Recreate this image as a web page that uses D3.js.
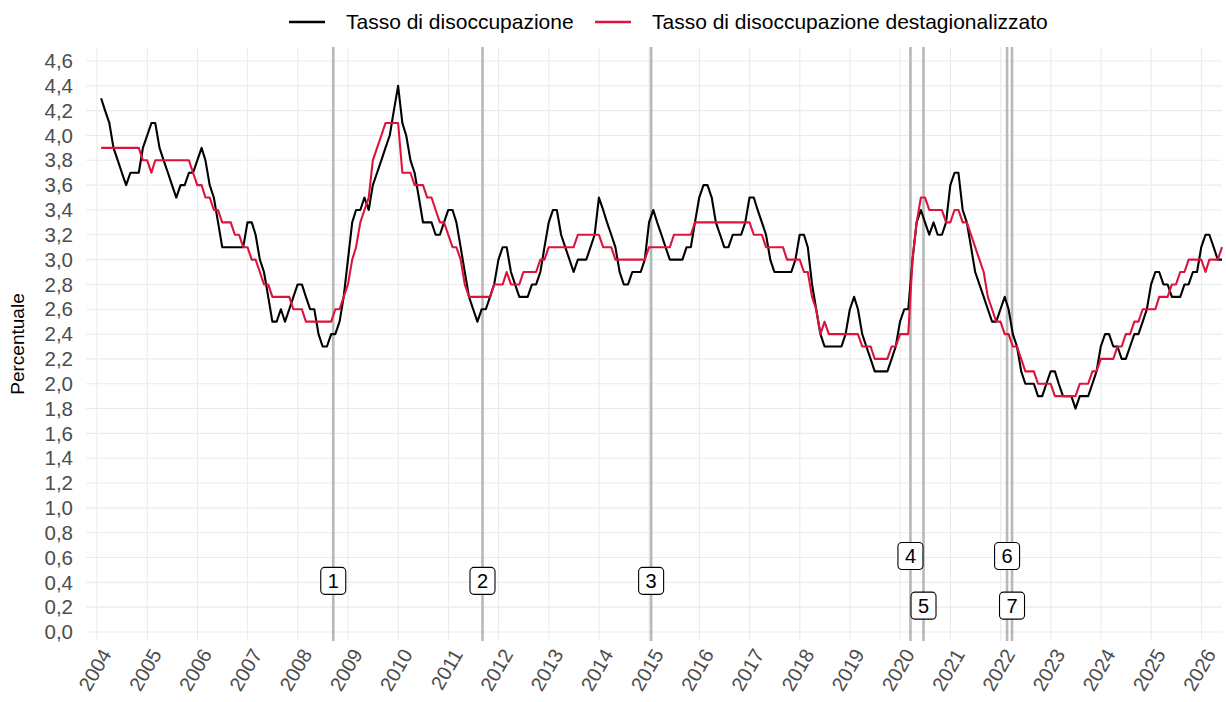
<!DOCTYPE html>
<html>
<head>
<meta charset="utf-8">
<script src="https://cdn.jsdelivr.net/npm/d3@7"></script>
<style>
  body { margin: 0; background: #fff; }
  svg { display: block; font-family: "Liberation Sans", Arial, sans-serif; }
</style>
</head>
<body>
<div id="chart"></div>
<script>
// Serie mensili da gennaio 2004
const primoAnno = 2004;
const tassoGrezzo = [
  4.3,4.2,4.1,3.9,3.8,3.7,3.6,3.7,3.7,3.7,3.9,4.0,
  4.1,4.1,3.9,3.8,3.7,3.6,3.5,3.6,3.6,3.7,3.7,3.8,
  3.9,3.8,3.6,3.5,3.3,3.1,3.1,3.1,3.1,3.1,3.1,3.3,
  3.3,3.2,3.0,2.9,2.7,2.5,2.5,2.6,2.5,2.6,2.7,2.8,
  2.8,2.7,2.6,2.6,2.4,2.3,2.3,2.4,2.4,2.5,2.7,3.0,
  3.3,3.4,3.4,3.5,3.4,3.6,3.7,3.8,3.9,4.0,4.2,4.4,
  4.1,4.0,3.8,3.7,3.5,3.3,3.3,3.3,3.2,3.2,3.3,3.4,
  3.4,3.3,3.1,2.9,2.7,2.6,2.5,2.6,2.6,2.7,2.8,3.0,
  3.1,3.1,2.9,2.8,2.7,2.7,2.7,2.8,2.8,2.9,3.1,3.3,
  3.4,3.4,3.2,3.1,3.0,2.9,3.0,3.0,3.0,3.1,3.2,3.5,
  3.4,3.3,3.2,3.1,2.9,2.8,2.8,2.9,2.9,2.9,3.0,3.3,
  3.4,3.3,3.2,3.1,3.0,3.0,3.0,3.0,3.1,3.1,3.3,3.5,
  3.6,3.6,3.5,3.3,3.2,3.1,3.1,3.2,3.2,3.2,3.3,3.5,
  3.5,3.4,3.3,3.2,3.0,2.9,2.9,2.9,2.9,2.9,3.0,3.2,
  3.2,3.1,2.8,2.6,2.4,2.3,2.3,2.3,2.3,2.3,2.4,2.6,
  2.7,2.6,2.4,2.3,2.2,2.1,2.1,2.1,2.1,2.2,2.3,2.5,
  2.6,2.6,3.0,3.3,3.4,3.3,3.2,3.3,3.2,3.2,3.3,3.6,
  3.7,3.7,3.4,3.3,3.1,2.9,2.8,2.7,2.6,2.5,2.5,2.6,
  2.7,2.6,2.4,2.3,2.1,2.0,2.0,2.0,1.9,1.9,2.0,2.1,
  2.1,2.0,1.9,1.9,1.9,1.8,1.9,1.9,1.9,2.0,2.1,2.3,
  2.4,2.4,2.3,2.3,2.2,2.2,2.3,2.4,2.4,2.5,2.6,2.8,
  2.9,2.9,2.8,2.8,2.7,2.7,2.7,2.8,2.8,2.9,2.9,3.1,
  3.2,3.2,3.1,3.0,3.0
];
const tassoDest = [
  3.9,3.9,3.9,3.9,3.9,3.9,3.9,3.9,3.9,3.9,3.8,3.8,
  3.7,3.8,3.8,3.8,3.8,3.8,3.8,3.8,3.8,3.8,3.7,3.6,
  3.6,3.5,3.5,3.4,3.4,3.3,3.3,3.3,3.2,3.2,3.1,3.1,
  3.0,3.0,2.9,2.8,2.8,2.7,2.7,2.7,2.7,2.7,2.6,2.6,
  2.6,2.5,2.5,2.5,2.5,2.5,2.5,2.5,2.6,2.6,2.7,2.8,
  3.0,3.1,3.3,3.4,3.5,3.8,3.9,4.0,4.1,4.1,4.1,4.1,
  3.7,3.7,3.7,3.6,3.6,3.6,3.5,3.5,3.4,3.3,3.3,3.2,
  3.1,3.1,3.0,2.8,2.7,2.7,2.7,2.7,2.7,2.7,2.8,2.8,
  2.8,2.9,2.8,2.8,2.8,2.9,2.9,2.9,2.9,3.0,3.0,3.1,
  3.1,3.1,3.1,3.1,3.1,3.1,3.2,3.2,3.2,3.2,3.2,3.2,
  3.1,3.1,3.1,3.0,3.0,3.0,3.0,3.0,3.0,3.0,3.0,3.1,
  3.1,3.1,3.1,3.1,3.1,3.2,3.2,3.2,3.2,3.2,3.3,3.3,
  3.3,3.3,3.3,3.3,3.3,3.3,3.3,3.3,3.3,3.3,3.3,3.3,
  3.2,3.2,3.2,3.1,3.1,3.1,3.1,3.1,3.0,3.0,3.0,3.0,
  2.9,2.9,2.7,2.6,2.4,2.5,2.4,2.4,2.4,2.4,2.4,2.4,
  2.4,2.4,2.3,2.3,2.3,2.2,2.2,2.2,2.2,2.3,2.3,2.4,
  2.4,2.4,3.0,3.3,3.5,3.5,3.4,3.4,3.4,3.4,3.3,3.3,
  3.4,3.4,3.3,3.3,3.2,3.1,3.0,2.9,2.7,2.6,2.5,2.5,
  2.4,2.4,2.3,2.3,2.2,2.1,2.1,2.1,2.0,2.0,2.0,2.0,
  1.9,1.9,1.9,1.9,1.9,1.9,2.0,2.0,2.0,2.1,2.1,2.2,
  2.2,2.2,2.2,2.3,2.3,2.4,2.4,2.5,2.5,2.6,2.6,2.6,
  2.6,2.7,2.7,2.7,2.8,2.8,2.9,2.9,3.0,3.0,3.0,3.0,
  2.9,3.0,3.0,3.0,3.1
];
const eventiDate = ["2008-09-15","2011-09-06","2015-01-15","2020-03-16","2020-06-19","2022-02-17","2022-03-25"];
const eventiNomi = ["1","2","3","4","5","6","7"];
const eventiLivello = [0.4, 0.4, 0.4, 0.6, 0.2, 0.6, 0.2];
const yTicks = d3.range(0, 4.61, 0.2);
const anniTicks = d3.range(2004, 2027);
const nomiSerie = ["Tasso di disoccupazione", "Tasso di disoccupazione destagionalizzato"];
const coloriSerie = ["#000000", "#DC143C"];

const width = 1226, height = 702;
const panel = {left: 86, right: 1222, top: 47, bottom: 641};

const svg = d3.select("#chart").append("svg")
    .attr("width", width).attr("height", height);

// Scale
const x = d3.scaleTime()
    .domain([new Date(2004, 0, 1), new Date(2026, 0, 1)])
    .range([97, 1201.4]);
const y = d3.scaleLinear().domain([0, 4.6]).range([632, 61]);

const mese = i => new Date(primoAnno, i + 1, 0);  // fine mese
const fmt = d3.format(".1f");

// Griglia
svg.append("g").selectAll("line").data(yTicks).join("line")
    .attr("x1", panel.left).attr("x2", panel.right)
    .attr("y1", d => y(d)).attr("y2", d => y(d))
    .attr("stroke", "#ebebeb").attr("stroke-width", 1.1);
svg.append("g").selectAll("line").data(anniTicks).join("line")
    .attr("x1", d => x(new Date(d, 0, 1))).attr("x2", d => x(new Date(d, 0, 1)))
    .attr("y1", panel.top).attr("y2", panel.bottom)
    .attr("stroke", "#ebebeb").attr("stroke-width", 1.1);

// Etichette asse y
svg.append("g").selectAll("text").data(yTicks).join("text")
    .attr("x", 73).attr("y", d => y(d))
    .attr("dy", "0.35em")
    .attr("text-anchor", "end")
    .style("font-size", "20.5px").style("fill", "#4d4d4d")
    .text(d => fmt(d).replace(".", ","));

// Etichette asse x (ruotate)
svg.append("g").selectAll("text").data(anniTicks).join("text")
    .attr("transform", d => `translate(${x(new Date(d, 0, 1)) + 3},${647}) rotate(-60)`)
    .attr("dy", "0.7em")
    .attr("text-anchor", "end")
    .style("font-size", "20px").style("fill", "#4d4d4d")
    .text(d => d);

// Titolo asse y
svg.append("text")
    .attr("transform", `translate(24,${(panel.top + panel.bottom) / 2}) rotate(-90)`)
    .attr("text-anchor", "middle")
    .style("font-size", "19px").style("fill", "#000")
    .text("Percentuale");

// Linee verticali degli eventi
const parse = d3.timeParse("%Y-%m-%d");
svg.append("g").selectAll("line").data(eventiDate).join("line")
    .attr("x1", d => x(parse(d))).attr("x2", d => x(parse(d)))
    .attr("y1", panel.top).attr("y2", panel.bottom)
    .attr("stroke", "#b8b8b8").attr("stroke-width", 2.6);

// Serie
const line = d3.line()
    .x((d, i) => x(mese(i)))
    .y(d => y(d));

[tassoGrezzo, tassoDest].forEach((serie, k) => {
    svg.append("path")
        .datum(serie)
        .attr("d", line)
        .attr("fill", "none")
        .attr("stroke", coloriSerie[k])
        .attr("stroke-width", 2.1)
        .attr("stroke-linejoin", "round");
});

// Etichette degli eventi
eventiDate.forEach((d, i) => {
    let cx = x(parse(d)), cy = y(eventiLivello[i]) - 1.5;
    let g = svg.append("g");
    g.append("rect")
        .attr("x", cx - 12.5).attr("y", cy - 13.5)
        .attr("width", 25).attr("height", 27)
        .attr("rx", 4)
        .attr("fill", "#fff").attr("stroke", "#000").attr("stroke-width", 1.1);
    g.append("text")
        .attr("x", cx).attr("y", cy)
        .attr("dy", "0.36em")
        .attr("text-anchor", "middle")
        .style("font-size", "20px").style("fill", "#000")
        .text(eventiNomi[i]);
});

// Legenda
const legendaX = [289, 595];
nomiSerie.forEach((nome, k) => {
    svg.append("line")
        .attr("x1", legendaX[k]).attr("x2", legendaX[k] + 36)
        .attr("y1", 22).attr("y2", 22)
        .attr("stroke", coloriSerie[k]).attr("stroke-width", 2.4);
    svg.append("text")
        .attr("x", legendaX[k] + 57).attr("y", 22)
        .attr("dy", "0.35em")
        .style("font-size", "21px").style("fill", "#000")
        .text(nome);
});
</script>
</body>
</html>
